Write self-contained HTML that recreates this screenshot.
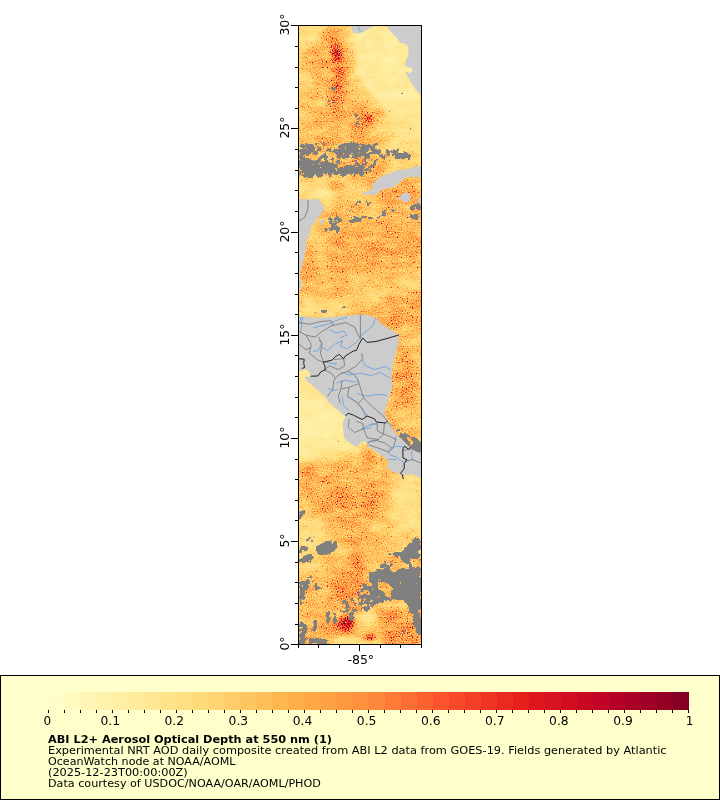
<!DOCTYPE html>
<html lang="en"><head><meta charset="utf-8"><title>ABI L2+ Aerosol Optical Depth at 550 nm</title>
<style>html,body{margin:0;padding:0;background:#fff;}svg{display:block}text{font-family:'DejaVu Sans','Liberation Sans',sans-serif;fill:#000}</style></head><body>
<svg width="720" height="800" viewBox="0 0 720 800">
<rect width="720" height="800" fill="#fff"/>
<!--MAP-->
<defs>
<clipPath id="mc"><rect x="299" y="26" width="122" height="618"/></clipPath>
<filter id="b2" filterUnits="userSpaceOnUse" x="240" y="0" width="240" height="700" color-interpolation-filters="sRGB"><feGaussianBlur stdDeviation="2"/></filter>
<filter id="b2_2" filterUnits="userSpaceOnUse" x="240" y="0" width="240" height="700" color-interpolation-filters="sRGB"><feGaussianBlur stdDeviation="2.2"/></filter>
<filter id="b2_5" filterUnits="userSpaceOnUse" x="240" y="0" width="240" height="700" color-interpolation-filters="sRGB"><feGaussianBlur stdDeviation="2.5"/></filter>
<filter id="b3" filterUnits="userSpaceOnUse" x="240" y="0" width="240" height="700" color-interpolation-filters="sRGB"><feGaussianBlur stdDeviation="3"/></filter>
<filter id="b3_5" filterUnits="userSpaceOnUse" x="240" y="0" width="240" height="700" color-interpolation-filters="sRGB"><feGaussianBlur stdDeviation="3.5"/></filter>
<filter id="b4" filterUnits="userSpaceOnUse" x="240" y="0" width="240" height="700" color-interpolation-filters="sRGB"><feGaussianBlur stdDeviation="4"/></filter>
<filter id="b5" filterUnits="userSpaceOnUse" x="240" y="0" width="240" height="700" color-interpolation-filters="sRGB"><feGaussianBlur stdDeviation="5"/></filter>
<filter id="b6" filterUnits="userSpaceOnUse" x="240" y="0" width="240" height="700" color-interpolation-filters="sRGB"><feGaussianBlur stdDeviation="6"/></filter>
<filter id="b7" filterUnits="userSpaceOnUse" x="240" y="0" width="240" height="700" color-interpolation-filters="sRGB"><feGaussianBlur stdDeviation="7"/></filter>
<filter id="aod" filterUnits="userSpaceOnUse" x="299" y="26" width="122" height="618" color-interpolation-filters="sRGB">
<feTurbulence type="fractalNoise" baseFrequency="0.8" numOctaves="1" seed="7" result="t1"/>
<feColorMatrix in="t1" type="matrix" values="1 0 0 0 0 1 0 0 0 0 1 0 0 0 0 0 0 0 0 1" result="n1"/>
<feComponentTransfer in="n1" result="ns"><feFuncR type="table" tableValues="0.2 0.2 0.22 0.29 0.35 0.4 0.455 0.58 1 1 1"/><feFuncG type="table" tableValues="0.2 0.2 0.22 0.29 0.35 0.4 0.455 0.58 1 1 1"/><feFuncB type="table" tableValues="0.2 0.2 0.22 0.29 0.35 0.4 0.455 0.58 1 1 1"/></feComponentTransfer>
<feTurbulence type="fractalNoise" baseFrequency="0.06 0.11" numOctaves="3" seed="11" result="t2"/>
<feColorMatrix in="t2" type="matrix" values="0 1 0 0 0 0 1 0 0 0 0 1 0 0 0 0 0 0 0 1" result="m"/>
<feComposite in="SourceGraphic" in2="m" operator="arithmetic" k1="0.8" k2="0.6" k3="0" k4="0" result="b2"/>
<feComponentTransfer in="b2" result="G"><feFuncR type="table" tableValues="0.0000 0.0044 0.0175 0.0394 0.0700 0.1094 0.1575 0.2144 0.2800 0.3544 0.4000 0.4400 0.4800 0.5200 0.5600 0.6000 0.6400 0.6800 0.7200 0.7600 0.8000"/><feFuncG type="table" tableValues="0.0000 0.0044 0.0175 0.0394 0.0700 0.1094 0.1575 0.2144 0.2800 0.3544 0.4000 0.4400 0.4800 0.5200 0.5600 0.6000 0.6400 0.6800 0.7200 0.7600 0.8000"/><feFuncB type="table" tableValues="0.0000 0.0044 0.0175 0.0394 0.0700 0.1094 0.1575 0.2144 0.2800 0.3544 0.4000 0.4400 0.4800 0.5200 0.5600 0.6000 0.6400 0.6800 0.7200 0.7600 0.8000"/></feComponentTransfer>
<feComponentTransfer in="b2" result="Bs"><feFuncR type="table" tableValues="0.7500 0.7913 0.8150 0.8213 0.8100 0.7812 0.7350 0.6713 0.5900 0.4913 0.4500 0.4200 0.3900 0.3600 0.3300 0.3000 0.2700 0.2400 0.2100 0.1800 0.1500"/><feFuncG type="table" tableValues="0.7500 0.7913 0.8150 0.8213 0.8100 0.7812 0.7350 0.6713 0.5900 0.4913 0.4500 0.4200 0.3900 0.3600 0.3300 0.3000 0.2700 0.2400 0.2100 0.1800 0.1500"/><feFuncB type="table" tableValues="0.7500 0.7913 0.8150 0.8213 0.8100 0.7812 0.7350 0.6713 0.5900 0.4913 0.4500 0.4200 0.3900 0.3600 0.3300 0.3000 0.2700 0.2400 0.2100 0.1800 0.1500"/></feComponentTransfer>
<feComposite in="G" in2="ns" operator="arithmetic" k1="1" k2="0" k3="0" k4="0" result="A"/>
<feComposite in="A" in2="Bs" operator="arithmetic" k1="0" k2="5" k3="1" k4="-0.75" result="v"/>
<feComponentTransfer in="v"><feFuncR type="table" tableValues="1.0000 1.0000 0.9961 0.9961 0.9922 0.9882 0.8902 0.7412 0.5020"/><feFuncG type="table" tableValues="1.0000 0.9294 0.8510 0.6980 0.5529 0.3059 0.1020 0.0000 0.0000"/><feFuncB type="table" tableValues="0.8000 0.6275 0.4627 0.2980 0.2353 0.1647 0.1098 0.1490 0.1490"/></feComponentTransfer>
</filter>
<filter id="cl" filterUnits="userSpaceOnUse" x="299" y="26" width="122" height="618" color-interpolation-filters="sRGB"><feGaussianBlur in="SourceGraphic" stdDeviation="1.2" result="c"/><feTurbulence type="fractalNoise" baseFrequency="0.22" numOctaves="3" seed="5" result="t"/><feColorMatrix in="t" type="matrix" values="1 0 0 0 0 1 0 0 0 0 1 0 0 0 0 0 0 0 0 1" result="tn"/><feComposite in="c" in2="tn" operator="arithmetic" k1="0" k2="1" k3="1.4" k4="-0.7" result="s"/><feComponentTransfer in="s" result="th"><feFuncR type="linear" slope="40" intercept="-19.5"/></feComponentTransfer><feColorMatrix in="th" type="matrix" values="0 0 0 0 0.502 0 0 0 0 0.502 0 0 0 0 0.502 1 0 0 0 0"/></filter>
<mask id="ch" maskUnits="userSpaceOnUse" x="290" y="20" width="140" height="630"><rect x="290" y="20" width="140" height="630" fill="#fff"/>
<polygon points="311,155 317,154.5 318.5,158 316,161 311.5,160.5" fill="#000"/>
<polygon points="406.5,437 410,438 412.5,441 413.5,444 411,444.5 408,441.5" fill="#000"/>
<polygon points="377,584 383,582 389,584 392,590 391,596 386,597 383,592 379,589" fill="#000"/>
<polygon points="411,559 419,559 420,566 412,567" fill="#000"/>
</mask>
</defs>
<g clip-path="url(#mc)">
<g filter="url(#aod)">
<rect x="290" y="20" width="140" height="630" fill="#4c4c4c"/>
<polygon points="299,26 421,26 421,200 299,200" fill="#424242"/>
<polygon points="299,26 326,26 320,42 299,48" fill="#303030" filter="url(#b5)"/>
<ellipse cx="317" cy="60" rx="16" ry="13" fill="#5e5e5e" filter="url(#b6)"/>
<ellipse cx="325" cy="62" rx="13" ry="16" fill="#6b6b6b" transform="rotate(-15 325 62)" filter="url(#b5)"/>
<ellipse cx="312" cy="100" rx="12" ry="25" fill="#4f4f4f" filter="url(#b6)"/>
<ellipse cx="333" cy="74" rx="17" ry="46" fill="#5e5e5e" filter="url(#b5)"/>
<polygon points="299,108 352,104 384,132 384,180 299,180" fill="#585858" filter="url(#b7)"/>
<polygon points="353,26 421,26 421,140 404,132 392,118 380,104 368,90 358,76 354,52" fill="#242424" filter="url(#b2_5)"/>
<polygon points="384,112 421,112 421,150 398,148 388,136" fill="#303030" filter="url(#b6)"/>
<polygon points="384,150 421,150 421,168 384,172" fill="#404040" filter="url(#b5)"/>
<polyline points="331,34 336,50 339.5,64 340,76 338,88 334,100 336,112" fill="none" stroke="#757575" stroke-width="11" stroke-linecap="round" stroke-linejoin="round" filter="url(#b4)"/>
<ellipse cx="337.5" cy="55" rx="5" ry="10" fill="#bdbdbd" transform="rotate(-15 337.5 55)" filter="url(#b2_5)"/>
<polyline points="340,68 339,80 336,92 333,101" fill="none" stroke="#8c8c8c" stroke-width="5" stroke-linecap="round" stroke-linejoin="round" filter="url(#b2_5)"/>
<ellipse cx="354" cy="102" rx="11" ry="13" fill="#575757" filter="url(#b5)"/>
<ellipse cx="366" cy="119" rx="12" ry="10" fill="#757575" filter="url(#b4)"/>
<ellipse cx="368" cy="118" rx="4" ry="4.5" fill="#a8a8a8" filter="url(#b2)"/>
<ellipse cx="378" cy="113" rx="6" ry="3" fill="#666666" transform="rotate(-20 378 113)" filter="url(#b3)"/>
<polygon points="299,178 360,178 372,188 360,200 299,200" fill="#424242" filter="url(#b5)"/>
<polygon points="299,183 328,186 340,199 299,199" fill="#303030" filter="url(#b4)"/>
<ellipse cx="337" cy="186" rx="10" ry="5" fill="#5c5c5c" transform="rotate(10 337 186)" filter="url(#b3)"/>
<polygon points="350,158 388,156 384,174 372,184 352,182" fill="#616161" filter="url(#b4)"/>
<polygon points="372,196 385,189 400,184 421,178 421,212 372,212" fill="#6e6e6e" filter="url(#b4)"/>
<polygon points="280,202 440,202 440,330 280,330" fill="#545454" filter="url(#b4)"/>
<polygon points="310,224 338,230 343,240 312,250" fill="#424242" filter="url(#b5)"/>
<polygon points="325,232 421,225 421,262 322,268" fill="#636363" filter="url(#b7)"/>
<polygon points="303,262 350,262 350,300 300,305" fill="#595959" filter="url(#b6)"/>
<polygon points="421,270 421,290 380,298 345,312 318,316 332,302 370,288" fill="#404040" filter="url(#b5)"/>
<polygon points="299,298 328,301 343,308 330,316 299,316" fill="#363636" filter="url(#b4)"/>
<polygon points="390,296 425,288 425,340 400,336 382,318" fill="#636363" filter="url(#b6)"/>
<polygon points="380,322 421,322 421,480 380,480" fill="#585858"/>
<ellipse cx="392" cy="322" rx="9" ry="8" fill="#6b6b6b" transform="rotate(30 392 322)" filter="url(#b4)"/>
<ellipse cx="414" cy="346" rx="8" ry="13" fill="#474747" filter="url(#b4)"/>
<ellipse cx="403" cy="382" rx="10" ry="25" fill="#666666" filter="url(#b5)"/>
<polygon points="386,412 421,408 421,436 400,433" fill="#4c4c4c" filter="url(#b4)"/>
<polygon points="299,365 380,365 380,470 299,470" fill="#242424"/>
<polygon points="299,365 330,365 345,400 320,395 299,385" fill="#303030" filter="url(#b5)"/>
<ellipse cx="318" cy="425" rx="18" ry="18" fill="#1f1f1f" filter="url(#b6)"/>
<polygon points="280,460 440,478 440,570 280,570" fill="#4a4a4a" filter="url(#b4)"/>
<polygon points="299,440 380,440 372,452 340,456 299,458" fill="#242424" filter="url(#b5)"/>
<polygon points="299,462 330,458 365,450 388,470 388,530 370,552 340,545 315,520 299,500" fill="#5c5c5c" filter="url(#b6)"/>
<ellipse cx="368" cy="455" rx="7" ry="10" fill="#6b6b6b" transform="rotate(-30 368 455)" filter="url(#b4)"/>
<ellipse cx="306" cy="475" rx="8" ry="7" fill="#666666" filter="url(#b4)"/>
<ellipse cx="350" cy="500" rx="28" ry="13" fill="#6b6b6b" transform="rotate(25 350 500)" filter="url(#b5)"/>
<ellipse cx="332" cy="487" rx="16" ry="5" fill="#666666" transform="rotate(25 332 487)" filter="url(#b4)"/>
<ellipse cx="372" cy="482" rx="10" ry="6" fill="#666666" transform="rotate(10 372 482)" filter="url(#b4)"/>
<ellipse cx="345" cy="478" rx="14" ry="3.5" fill="#3d3d3d" transform="rotate(20 345 478)" filter="url(#b3)"/>
<polygon points="405,476 421,478 421,536 397,532 392,500 396,482" fill="#333333" filter="url(#b5)"/>
<polygon points="299,516 318,520 332,538 322,556 299,556" fill="#383838" filter="url(#b4)"/>
<ellipse cx="380" cy="527" rx="11" ry="4" fill="#3d3d3d" transform="rotate(-10 380 527)" filter="url(#b3)"/>
<ellipse cx="358" cy="545" rx="20" ry="12" fill="#5c5c5c" filter="url(#b5)"/>
<polygon points="280,556 440,556 440,660 280,660" fill="#545454" filter="url(#b4)"/>
<polygon points="299,556 326,556 320,570 306,575 299,574" fill="#404040" filter="url(#b4)"/>
<ellipse cx="348" cy="588" rx="17" ry="30" fill="#6b6b6b" transform="rotate(10 348 588)" filter="url(#b6)"/>
<polyline points="357,564 359,578 355,592" fill="none" stroke="#808080" stroke-width="6" stroke-linecap="round" stroke-linejoin="round" filter="url(#b3)"/>
<ellipse cx="318" cy="626" rx="16" ry="13" fill="#5e5e5e" filter="url(#b5)"/>
<ellipse cx="342" cy="627" rx="12" ry="8" fill="#858585" transform="rotate(-30 342 627)" filter="url(#b3_5)"/>
<ellipse cx="346.5" cy="623" rx="6" ry="7" fill="#d1d1d1" filter="url(#b2_2)"/>
<ellipse cx="368" cy="618" rx="9" ry="9" fill="#2e2e2e" filter="url(#b3)"/>
<polygon points="334,638 364,638 380,641 380,646 334,646" fill="#333333" filter="url(#b2_5)"/>
<ellipse cx="370.5" cy="636" rx="6.5" ry="3.5" fill="#9e9e9e" filter="url(#b2)"/>
<polygon points="380,605 421,612 421,645 385,645" fill="#6e6e6e" filter="url(#b5)"/>
<ellipse cx="395" cy="606" rx="12" ry="5" fill="#454545" filter="url(#b4)"/>
</g>
<g filter="url(#cl)"><rect x="290" y="20" width="140" height="630" fill="#000"/>
<polygon points="299,143 380,143 412,152 412,160 380,160 370,176 299,178" fill="#666666"/>
<polygon points="299,144 306,143 312,145 318,148 321,152 318,156 311,157 305,159 299,158" fill="#b8b8b8"/>
<polygon points="299,159 306,161 313,160 320,160.5 327,161.5 332,164 337,167 336,172 330,175 322,176.5 314,177.5 306,178 299,177" fill="#c7c7c7"/>
<polygon points="335,150 339,145 345,143 352,141.5 357,143.5 363,142.5 369,144.5 374,146 378,148.5 375,153 369,154 363,157 356,158 349,156 344,159 337,157" fill="#b2b2b2"/>
<polygon points="335,170.5 341,167 348,165.5 355,165 361,166.5 368,168.5 365,171.5 358,173 350,174 341,174.5" fill="#cccccc"/>
<polygon points="391,153 397,151 404,152.5 411,155 410,159.5 403,159 396,157.5" fill="#bfbfbf"/>
<polygon points="319,157 326,154.5 334,157 331,161 322,161" fill="#8c8c8c"/>
<polygon points="376,152 388,151 390,155 378,156" fill="#8c8c8c"/>
<polygon points="354,114 362,113 363,124 356,125" fill="#808080"/>
<polygon points="327,84 336,82 340,96 335,112 328,110" fill="#4c4c4c"/>
<polygon points="327,222 330.5,216 335,213.5 340,215 342,221 339.5,224 341,230 335,230 329,227" fill="#9e9e9e"/>
<polygon points="348,221 354,217 360,216 366,215.5 368,219 362,221.5 356,223 350,224" fill="#bfbfbf"/>
<polygon points="365,218 375,215.5 387,213 387,215.5 376,218.5 366,220.5" fill="#a8a8a8"/>
<polygon points="380,211.5 390,209 400.5,208 400.5,210.5 390,212 381,213.5" fill="#a8a8a8"/>
<polygon points="409,207 415,203 421,202 421,210.5 415,210.5 410,210" fill="#d1d1d1"/>
<polygon points="409,217 416,213.5 421,213 421,220.5 414,221" fill="#a8a8a8"/>
<polygon points="364,201 369.5,199.5 370,205.5 365.5,206.5" fill="#8c8c8c"/>
<polygon points="322,228 334,228 340,232 333,235 323,233" fill="#737373"/>
<polygon points="345,200 362,200 362,212 345,212" fill="#4c4c4c"/>
<polygon points="316,311 322,309.5 329,310.5 327,314.5 319,315.5" fill="#737373"/>
<polygon points="336,306 346,304 348,308 338,310" fill="#737373"/>
<polygon points="397,433.5 405,433 409,435 414,437.5 418,439.8 421,442 421,454 414,451 408.5,446.5 403,441" fill="#ffffff"/>
<polygon points="390,424 396,428 403,432 400,434 393,430" fill="#808080"/>
<polygon points="299,511 304,510 306,514 303,519 299,520.5" fill="#bfbfbf"/>
<polygon points="315,548 320,543.5 327,540.5 333,540 338.5,543 337,548 332.5,552.5 326,555.5 318.5,555" fill="#d9d9d9"/>
<polygon points="299,547 305,545.5 310,549 304,553.5 299,554.5" fill="#a6a6a6"/>
<polygon points="299,558 308,553.5 315,556 312,561.5 304,563.5 299,563" fill="#b2b2b2"/>
<polygon points="305,538 316,536 318,541 307,544" fill="#808080"/>
<polygon points="299,581 304,579 311,575 315,579 311,584.5 307,590 306,597 304,604.5 299,607" fill="#b2b2b2"/>
<polygon points="313,584 320,582 321,590 314,592" fill="#808080"/>
<polygon points="401,551 406,546 413,539 421,537 421,569 410.5,570.5 409,565 404,562 400.5,557" fill="#cccccc"/>
<polygon points="388.5,553 396,551 403.5,552 403.5,557 396,557.5 389.5,557" fill="#bfbfbf"/>
<polygon points="379.5,565 386,563.5 391,566 388.5,570.5 380.5,570.5" fill="#bfbfbf"/>
<polygon points="368,573.5 376,569.5 389,569.5 396,571.5 403.3,567.5 410.5,569.5 421,567.5 421,636 419.6,621 412.4,617.5 410.5,610 405,602 396,599.3 385.3,601 378,603 372.6,606.5 367,611 361,608 365.5,602 370.3,597 372.5,591 374,586 370.3,580.7" fill="#ebebeb"/>
<polygon points="412,604 421,602 421,637 416,633 413,622" fill="#d9d9d9"/>
<polygon points="358,585 372,578 374,600 364,608 356,604" fill="#8c8c8c"/>
<polygon points="383,560 392,559 392,569 384,570" fill="#808080"/>
<polygon points="299,621.5 304,622.5 307.5,628 305.5,634 308,640 304.5,645 299,645" fill="#c7c7c7"/>
<polygon points="309,639 318,637.5 328,639.5 328,645 309,645" fill="#e6e6e6"/>
<polygon points="312.5,620 316.5,619 317.5,628 315.5,635 312.5,634" fill="#a6a6a6"/>
<polygon points="325.5,611 329.5,609 330.5,618 328.5,627 325.5,625" fill="#a6a6a6"/>
<polygon points="332.5,613 336.5,612 337.5,622 334,628" fill="#a6a6a6"/>
<polygon points="349,612 354.5,612.5 355,619.5 351,621 348.5,617" fill="#d9d9d9"/>
<polygon points="342.5,601 345.5,601 345.5,611 342.5,611" fill="#999999"/>
<polygon points="401,629 405.5,629.5 405.5,635.5 401.5,635.5" fill="#b2b2b2"/>
<polygon points="338,600 358,598 358,612 340,614" fill="#737373"/>
<polygon points="311,155 317,154.5 318.5,158 316,161 311.5,160.5" fill="#000"/>
<polygon points="406.5,437 410,438 412.5,441 413.5,444 411,444.5 408,441.5" fill="#000"/>
<polygon points="377,584 383,582 389,584 392,590 391,596 386,597 383,592 379,589" fill="#000"/>
<polygon points="411,559 419,559 420,566 412,567" fill="#000"/>
</g>
<g fill="#cccccc">
<polygon points="351,26 351.5,30 353,32.5 357.5,33.8 361,33 363.6,31.8 366,30 368.3,28.9 373,26.8 374,26"/>
<polygon points="386.3,26 389,29.5 392,33 395,36 397.9,38.9 400.2,43 405,43.6 407,45.5 408.5,48.3 408.6,52.5 407.9,56.6 406,60.5 405,63.7 405,66 409.5,67.5 413,69 412,72 409,73.5 406.5,71.5 405.5,72.5 406.5,75 407.9,76.7 410,80.5 412,83.8 414,87 415.6,89.7 418,92.2 420.3,94.4 421,98 422,98 422,26"/>
<polygon points="422,166.2 414.3,166.7 410.5,168.2 407.5,169.6 402.6,169.6 395.8,170.6 391,173 385.1,174.9 379.3,177.4 375.9,181.2 372.5,184.2 372,189 365.7,192 361.8,193.4 362.8,194.9 369.6,193.9 372,195.3 377.4,193.4 382.2,189.5 387.1,188.5 393.9,187.1 398.7,183.2 403.6,179.3 407.5,176.9 415.3,176.9 422,176.9"/>
<polygon points="402,193.5 406,192.5 409.5,194 411,197.5 410,200.5 406.5,202.5 403,201.5 401.5,199.5 398.5,200.5 398.5,198 400.5,196.5"/>
<polygon points="298,199 315.6,199.6 319.1,199 321.8,203.8 324.6,208.6 321.1,214.1 315.6,221 311.5,225.8 310.1,231.3 308.8,237.5 306,239.5 306.7,245 305.3,250.5 303.9,258.8 301.9,267 299.8,272.6 300.5,278 301.8,283 302,288 299.5,291 298,291"/>
<polygon points="320,225.5 319.5,221.5 322,219 324.6,219 322.5,223"/>
<polygon points="418,198 422,198 422,203.5 418.5,203"/>
<polygon points="299,316.5 305,316.5 312,317.5 318.5,318 325,317.5 333,317 340,316.2 350,315.5 360,314.4 367,315 374.5,317 378,320.5 381.7,324.3 385,326.5 389,328.8 394,332 398.8,335 398.5,342 397,349.6 395,356 393.4,362 392,370 391.6,376.7 392.5,385 391,392 388.9,398 386.5,405 384.4,412.5 386,417 388,421.5 392,428 396,434 403.3,440.8 408.7,446.2 414,450.7 421,453.4 421,477.8 416,476 410.5,474 405,475 403.3,477.8 400.6,474 396,472.8 390.7,470.5 386.6,467 388.9,463.3 387,459.7 380.8,455.2 373.5,449.8 368,447 365.4,440.8 363.6,441.4 360,443.5 357.3,446.8 353,445 349.2,442.3 346,440 343.8,436 343.5,432 342.9,427 343,423 344.7,418 345.5,417 341.7,413.2 335.8,408.3 329,402.5 324.2,395.7 317.4,390 310.5,384 304.5,378.5 306,376 308,377 311,376 309,371.5 306,369.5 303,370 299,371.5"/>
</g>
<g fill="none" stroke-width="1" stroke-linejoin="round">
<g stroke="#6fa3dc" stroke-width="0.9">
<polyline points="375.4,318 372.6,326.1 363.6,333.3 356.4,342.4 347.4,348.7 340.1,346 342.9,340.6 334.7,344.2 327.5,350.5 322,347.8"/>
<polyline points="299,324.3 302.2,320.7 303,317"/>
<polyline points="313,327.9 327.5,324.3 338.3,319.8 347.4,317.1"/>
<polyline points="361.8,359.5 365.4,365.8 374.5,369.5 385.3,366.7 390.7,369.5"/>
<polyline points="341,372.2 349.2,374.9 360,373.1 370.8,375.8 379.9,372.2 390.7,378.5"/>
<polyline points="336.5,383 345.6,380.3 354.6,382.1 358.2,380.3"/>
<polyline points="313,351.4 318.4,350.5 322,342.4 318.5,340.6"/>
<polyline points="324.8,362.2 336.5,364 334.7,365.8"/>
<polyline points="327.5,388.1 333.8,390.8 338.3,389"/>
<polyline points="342,396.2 343.7,405.3 349.2,410.7"/>
<polyline points="347.4,396.2 356.4,401.7 362.7,408.9 365.4,417"/>
<polyline points="357.3,393.5 367.2,396.2 378,394.4 387.1,395.3"/>
<polyline points="363.6,427.9 370.8,424.2 377.2,423.3"/>
<polyline points="361.8,428.6 369.9,428.1 371.7,424.5 376.7,424.1"/>
<polyline points="387.1,422.7 389.8,423.6 391.1,427.2"/>
<polyline points="367.7,444.4 370.8,440.8 379.4,439.9"/>
<polyline points="396.1,436.2 395.2,439.9"/>
<polyline points="388,450.7 391.6,448 396.1,446.2 404.2,447.1"/>
<polyline points="387.5,451.5 390.7,455.2 396.1,457 399.7,459.7 404.2,462.4 407,460.2"/>
<polyline points="388.4,459.3 396.1,459.7"/>
<polyline points="412.3,448.9 411.4,454.3 413.2,460.6"/>
<polyline points="358,26 359,30 361,31.5"/>
<polyline points="300,317 302,325 300.5,332"/>
<polyline points="330,330 336,333 344,331 347,335 340,338"/>
</g><g stroke="#7d7d7d" stroke-width="0.9">
<polyline points="360.4,314.4 360.4,338.7"/>
<polyline points="299,331.5 305.8,335.1 314.9,337 322,331.5 331,326 345.6,322.5 354.6,327 357.3,333.3 360,337.9"/>
<polyline points="299,322.5 309.4,324.3 320.3,321.6 331,320.7 333.8,326"/>
<polyline points="318.5,337 322,344.2 320.3,353.2 323.9,362.2"/>
<polyline points="305.8,335.1 311.2,344.2 309.4,353.2 318.5,360.4 323.9,362.2"/>
<polyline points="299,344.2 305.8,349.6 311.2,347.8"/>
<polyline points="333.8,359.5 343.7,358.6 344.6,365.8 338.3,369.5 329.3,365.8 324.8,369.5"/>
<polyline points="361.8,353.2 362.7,358.6 356.4,365.8 347.4,371.3 338.3,374.9 333.8,380.3 332.9,389 327.5,396.2"/>
<polyline points="347.4,371.3 354.6,374.9 358.2,380.3 359.1,383.6"/>
<polyline points="323.9,369.5 331.1,373 335.6,378.5 333.8,380.3"/>
<polyline points="342,380 341,389 338.3,396.2 340.1,403.5"/>
<polyline points="341,389 349.2,387.2 359.1,383.6 363.6,398 358.2,403.5 367.2,416.1"/>
<polyline points="363.6,398 372.6,407 383.5,416.1 386.5,420.6"/>
<polyline points="349.2,387.2 347.4,396.2 358.2,403.5"/>
<polyline points="349.2,418.8 348.3,427 354.6,432.4 363.6,428.8 362.7,423.3 356.4,421.5"/>
<polyline points="363.6,428.8 367.2,437.8 378,439.6 383.5,434.2 377.2,430.6 377.2,422.4"/>
<polyline points="383.5,434.2 384.4,422.4"/>
<polyline points="367.2,442.3 376.3,440.5 385.3,443.2 392.5,448.6 396.1,439.6 388.9,436 383.5,434.2"/>
<polyline points="392.5,448.6 388.9,452.2 379.9,448.6 369,445"/>
<polyline points="403.3,450.4 412.4,448.6 420,451.5"/>
<polyline points="405.1,461.3 412.4,459.5 421,463"/>
<polyline points="308,200 308.2,206 307.4,210.6 304.6,217.5 299,221"/>
</g><g stroke="#222">
<polyline points="310.6,376.2 317.8,376 320.8,371.9 325.1,369.9 325.1,366.5 323.2,362.2 331.9,360.2 335.8,356.3 339.2,354.4 343.6,358.7 345.6,355.8 353.3,351 356.4,350.5 359,344.2 362.7,337.9 367,342.4 376,341.5 389,337.9 398.8,335"/>
<polyline points="298.9,358.7 304.2,359.2 303.7,363.6 304.7,367.5 301.8,368.5"/>
<polyline points="345.6,416.1 348,413.2 353.3,415.1 362.1,419.5 367.2,416.1 374.5,418.8 376.3,421.9 385.3,423 388,420.6"/>
<polyline points="410.5,447 408.5,449.5 407,448 404.7,446.2 402.9,448.9 402.9,457.9 407,459.7 404.2,463.3 404.2,468.7 400.6,473.2 402.4,475 403.3,479.1"/>
</g></g>
</g>
<!--/MAP-->
<g stroke="#000" stroke-width="1" fill="none" shape-rendering="crispEdges">
<rect x="298.5" y="25.5" width="123" height="619"/>
<line x1="291" y1="644.5" x2="298" y2="644.5"/>
<line x1="295" y1="624.5" x2="298" y2="624.5"/>
<line x1="295" y1="603.5" x2="298" y2="603.5"/>
<line x1="295" y1="582.5" x2="298" y2="582.5"/>
<line x1="295" y1="562.5" x2="298" y2="562.5"/>
<line x1="291" y1="541.5" x2="298" y2="541.5"/>
<line x1="295" y1="520.5" x2="298" y2="520.5"/>
<line x1="295" y1="500.5" x2="298" y2="500.5"/>
<line x1="295" y1="479.5" x2="298" y2="479.5"/>
<line x1="295" y1="459.5" x2="298" y2="459.5"/>
<line x1="291" y1="438.5" x2="298" y2="438.5"/>
<line x1="295" y1="417.5" x2="298" y2="417.5"/>
<line x1="295" y1="397.5" x2="298" y2="397.5"/>
<line x1="295" y1="376.5" x2="298" y2="376.5"/>
<line x1="295" y1="355.5" x2="298" y2="355.5"/>
<line x1="291" y1="335.5" x2="298" y2="335.5"/>
<line x1="295" y1="314.5" x2="298" y2="314.5"/>
<line x1="295" y1="294.5" x2="298" y2="294.5"/>
<line x1="295" y1="273.5" x2="298" y2="273.5"/>
<line x1="295" y1="252.5" x2="298" y2="252.5"/>
<line x1="291" y1="232.5" x2="298" y2="232.5"/>
<line x1="295" y1="211.5" x2="298" y2="211.5"/>
<line x1="295" y1="190.5" x2="298" y2="190.5"/>
<line x1="295" y1="170.5" x2="298" y2="170.5"/>
<line x1="295" y1="149.5" x2="298" y2="149.5"/>
<line x1="291" y1="128.5" x2="298" y2="128.5"/>
<line x1="295" y1="108.5" x2="298" y2="108.5"/>
<line x1="295" y1="87.5" x2="298" y2="87.5"/>
<line x1="295" y1="67.5" x2="298" y2="67.5"/>
<line x1="295" y1="46.5" x2="298" y2="46.5"/>
<line x1="291" y1="25.5" x2="298" y2="25.5"/>
<line x1="298.5" y1="645" x2="298.5" y2="648"/>
<line x1="318.5" y1="645" x2="318.5" y2="648"/>
<line x1="339.5" y1="645" x2="339.5" y2="648"/>
<line x1="359.5" y1="645" x2="359.5" y2="651"/>
<line x1="380.5" y1="645" x2="380.5" y2="648"/>
<line x1="400.5" y1="645" x2="400.5" y2="648"/>
<line x1="421.5" y1="645" x2="421.5" y2="648"/>
</g>
<text transform="translate(289,643.5) rotate(-90)" font-size="12.5" text-anchor="middle">0°</text>
<text transform="translate(289,540.5) rotate(-90)" font-size="12.5" text-anchor="middle">5°</text>
<text transform="translate(289,437.5) rotate(-90)" font-size="12.5" text-anchor="middle">10°</text>
<text transform="translate(289,334.5) rotate(-90)" font-size="12.5" text-anchor="middle">15°</text>
<text transform="translate(289,231.5) rotate(-90)" font-size="12.5" text-anchor="middle">20°</text>
<text transform="translate(289,127.5) rotate(-90)" font-size="12.5" text-anchor="middle">25°</text>
<text transform="translate(289,24.5) rotate(-90)" font-size="12.5" text-anchor="middle">30°</text>
<text x="360.8" y="663.6" font-size="12.5" text-anchor="middle">-85°</text>
<rect x="0.5" y="675.5" width="719" height="124" fill="#ffffcc" stroke="#000" stroke-width="1" shape-rendering="crispEdges"/>
<g shape-rendering="crispEdges">
<rect x="48" y="692" width="16" height="18" fill="#fffdc8"/>
<rect x="64" y="692" width="16" height="18" fill="#fffabf"/>
<rect x="80" y="692" width="16" height="18" fill="#fff6b6"/>
<rect x="96" y="692" width="16" height="18" fill="#fff2ad"/>
<rect x="112" y="692" width="16" height="18" fill="#ffefa4"/>
<rect x="128" y="692" width="16" height="18" fill="#ffeb9c"/>
<rect x="144" y="692" width="16" height="18" fill="#ffe793"/>
<rect x="160" y="692" width="16" height="18" fill="#fee38b"/>
<rect x="176" y="692" width="16" height="18" fill="#fedf83"/>
<rect x="192" y="692" width="16" height="18" fill="#fedb7a"/>
<rect x="208" y="692" width="16" height="18" fill="#fed572"/>
<rect x="224" y="692" width="16" height="18" fill="#fecd69"/>
<rect x="240" y="692" width="16" height="18" fill="#fec661"/>
<rect x="256" y="692" width="16" height="18" fill="#febe59"/>
<rect x="272" y="692" width="16" height="18" fill="#feb650"/>
<rect x="288" y="692" width="16" height="18" fill="#feae4a"/>
<rect x="304" y="692" width="16" height="18" fill="#fea747"/>
<rect x="320" y="692" width="16" height="18" fill="#fea044"/>
<rect x="336" y="692" width="16" height="18" fill="#fd9841"/>
<rect x="352" y="692" width="16" height="18" fill="#fd913e"/>
<rect x="368" y="692" width="17" height="18" fill="#fd873a"/>
<rect x="385" y="692" width="16" height="18" fill="#fd7a37"/>
<rect x="401" y="692" width="16" height="18" fill="#fc6e33"/>
<rect x="417" y="692" width="16" height="18" fill="#fc612f"/>
<rect x="433" y="692" width="16" height="18" fill="#fc542c"/>
<rect x="449" y="692" width="16" height="18" fill="#fa4929"/>
<rect x="465" y="692" width="16" height="18" fill="#f43e26"/>
<rect x="481" y="692" width="16" height="18" fill="#f03423"/>
<rect x="497" y="692" width="16" height="18" fill="#ea2a20"/>
<rect x="513" y="692" width="16" height="18" fill="#e61f1d"/>
<rect x="529" y="692" width="16" height="18" fill="#df171d"/>
<rect x="545" y="692" width="16" height="18" fill="#d8121f"/>
<rect x="561" y="692" width="16" height="18" fill="#d00d21"/>
<rect x="577" y="692" width="16" height="18" fill="#c80823"/>
<rect x="593" y="692" width="16" height="18" fill="#c10325"/>
<rect x="609" y="692" width="16" height="18" fill="#b70026"/>
<rect x="625" y="692" width="16" height="18" fill="#ab0026"/>
<rect x="641" y="692" width="16" height="18" fill="#9e0026"/>
<rect x="657" y="692" width="16" height="18" fill="#920026"/>
<rect x="673" y="692" width="16" height="18" fill="#860026"/>
</g>
<g stroke="#000" stroke-width="1" shape-rendering="crispEdges">
<line x1="48.5" y1="710" x2="48.5" y2="713"/>
<line x1="64.5" y1="710" x2="64.5" y2="713"/>
<line x1="80.5" y1="710" x2="80.5" y2="713"/>
<line x1="96.5" y1="710" x2="96.5" y2="713"/>
<line x1="112.5" y1="710" x2="112.5" y2="713"/>
<line x1="128.5" y1="710" x2="128.5" y2="713"/>
<line x1="144.5" y1="710" x2="144.5" y2="713"/>
<line x1="160.5" y1="710" x2="160.5" y2="713"/>
<line x1="176.5" y1="710" x2="176.5" y2="713"/>
<line x1="192.5" y1="710" x2="192.5" y2="713"/>
<line x1="208.5" y1="710" x2="208.5" y2="713"/>
<line x1="224.5" y1="710" x2="224.5" y2="713"/>
<line x1="240.5" y1="710" x2="240.5" y2="713"/>
<line x1="256.5" y1="710" x2="256.5" y2="713"/>
<line x1="272.5" y1="710" x2="272.5" y2="713"/>
<line x1="288.5" y1="710" x2="288.5" y2="713"/>
<line x1="304.5" y1="710" x2="304.5" y2="713"/>
<line x1="320.5" y1="710" x2="320.5" y2="713"/>
<line x1="336.5" y1="710" x2="336.5" y2="713"/>
<line x1="352.5" y1="710" x2="352.5" y2="713"/>
<line x1="368.5" y1="710" x2="368.5" y2="713"/>
<line x1="384.5" y1="710" x2="384.5" y2="713"/>
<line x1="400.5" y1="710" x2="400.5" y2="713"/>
<line x1="416.5" y1="710" x2="416.5" y2="713"/>
<line x1="432.5" y1="710" x2="432.5" y2="713"/>
<line x1="448.5" y1="710" x2="448.5" y2="713"/>
<line x1="464.5" y1="710" x2="464.5" y2="713"/>
<line x1="480.5" y1="710" x2="480.5" y2="713"/>
<line x1="496.5" y1="710" x2="496.5" y2="713"/>
<line x1="512.5" y1="710" x2="512.5" y2="713"/>
<line x1="528.5" y1="710" x2="528.5" y2="713"/>
<line x1="544.5" y1="710" x2="544.5" y2="713"/>
<line x1="560.5" y1="710" x2="560.5" y2="713"/>
<line x1="576.5" y1="710" x2="576.5" y2="713"/>
<line x1="592.5" y1="710" x2="592.5" y2="713"/>
<line x1="608.5" y1="710" x2="608.5" y2="713"/>
<line x1="624.5" y1="710" x2="624.5" y2="713"/>
<line x1="640.5" y1="710" x2="640.5" y2="713"/>
<line x1="656.5" y1="710" x2="656.5" y2="713"/>
<line x1="672.5" y1="710" x2="672.5" y2="713"/>
<line x1="688.5" y1="710" x2="688.5" y2="713"/>
</g>
<text x="47.4" y="724.7" font-size="12" text-anchor="middle">0</text>
<text x="110.2" y="724.7" font-size="12" text-anchor="middle" textLength="19.6" lengthAdjust="spacingAndGlyphs">0.1</text>
<text x="174.3" y="724.7" font-size="12" text-anchor="middle" textLength="19.6" lengthAdjust="spacingAndGlyphs">0.2</text>
<text x="238.4" y="724.7" font-size="12" text-anchor="middle" textLength="19.6" lengthAdjust="spacingAndGlyphs">0.3</text>
<text x="302.5" y="724.7" font-size="12" text-anchor="middle" textLength="19.6" lengthAdjust="spacingAndGlyphs">0.4</text>
<text x="366.6" y="724.7" font-size="12" text-anchor="middle" textLength="19.6" lengthAdjust="spacingAndGlyphs">0.5</text>
<text x="430.7" y="724.7" font-size="12" text-anchor="middle" textLength="19.6" lengthAdjust="spacingAndGlyphs">0.6</text>
<text x="494.8" y="724.7" font-size="12" text-anchor="middle" textLength="19.6" lengthAdjust="spacingAndGlyphs">0.7</text>
<text x="558.9" y="724.7" font-size="12" text-anchor="middle" textLength="19.6" lengthAdjust="spacingAndGlyphs">0.8</text>
<text x="623" y="724.7" font-size="12" text-anchor="middle" textLength="19.6" lengthAdjust="spacingAndGlyphs">0.9</text>
<text x="689.6" y="724.7" font-size="12" text-anchor="middle">1</text>
<text x="48" y="742.5" font-size="10.5" font-weight="bold" textLength="284" lengthAdjust="spacingAndGlyphs">ABI L2+ Aerosol Optical Depth at 550 nm (1)</text>
<text x="48" y="753.5" font-size="10.5" textLength="618.6" lengthAdjust="spacingAndGlyphs">Experimental NRT AOD daily composite created from ABI L2 data from GOES-19. Fields generated by Atlantic</text>
<text x="48" y="764.5" font-size="10.5" textLength="187.5" lengthAdjust="spacingAndGlyphs">OceanWatch node at NOAA/AOML</text>
<text x="48" y="775.5" font-size="10.5" textLength="139.7" lengthAdjust="spacingAndGlyphs">(2025-12-23T00:00:00Z)</text>
<text x="48" y="786.5" font-size="10.5" textLength="272.9" lengthAdjust="spacingAndGlyphs">Data courtesy of USDOC/NOAA/OAR/AOML/PHOD</text>
</svg></body></html>
